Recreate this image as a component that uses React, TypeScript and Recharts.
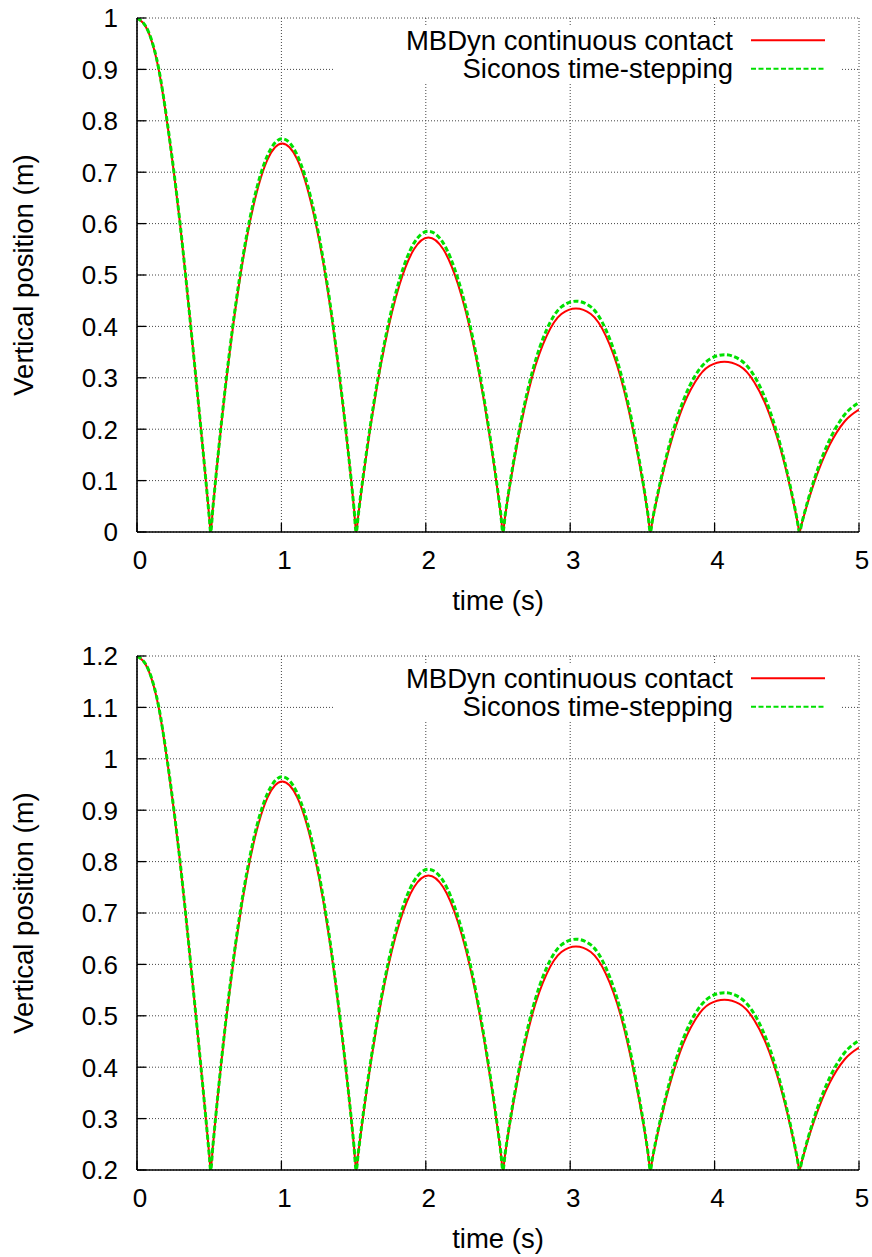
import React from 'react'
import { LineChart, Line, XAxis, YAxis, CartesianGrid, Legend } from 'recharts'

// sample times (s), shared by both panels
const times = [
  0, 0.08, 0.15, 0.207, 0.255, 0.298, 0.336, 0.372, 0.408, 0.443, 0.477, 0.502, 0.51,
  0.525, 0.609, 0.708, 0.807, 0.906, 1.005, 1.108, 1.21, 1.313, 1.415, 1.503, 1.518,
  1.533, 1.618, 1.718, 1.818, 1.918, 2.018, 2.121, 2.224, 2.328, 2.431, 2.519, 2.534,
  2.549, 2.635, 2.736, 2.838, 2.939, 3.04, 3.143, 3.246, 3.349, 3.452, 3.54, 3.555,
  3.57, 3.658, 3.76, 3.863, 3.965, 4.068, 4.172, 4.276, 4.38, 4.484, 4.572, 4.588,
  4.604, 4.692, 4.796, 4.9, 5,
]

const mbdynTop = [
  1, 0.972, 0.9, 0.8, 0.7, 0.6, 0.5, 0.4, 0.3, 0.2, 0.1, 0.024, 0,
  0.045, 0.272, 0.484, 0.635, 0.726, 0.756, 0.726, 0.635, 0.484, 0.272, 0.045, 0,
  0.034, 0.206, 0.367, 0.481, 0.55, 0.573, 0.55, 0.481, 0.367, 0.206, 0.034, 0,
  0.03, 0.174, 0.301, 0.382, 0.424, 0.435, 0.424, 0.382, 0.301, 0.174, 0.03, 0,
  0.0225, 0.133, 0.229, 0.291, 0.323, 0.331, 0.323, 0.291, 0.229, 0.133, 0.0225, 0,
  0.0166, 0.098, 0.169, 0.215, 0.238,
]

const siconosTop = [
  1, 0.973, 0.902, 0.802, 0.702, 0.601, 0.501, 0.401, 0.3, 0.2, 0.1, 0.024, 0,
  0.045, 0.275, 0.49, 0.643, 0.734, 0.765, 0.734, 0.643, 0.49, 0.275, 0.045, 0,
  0.035, 0.211, 0.374, 0.491, 0.562, 0.585, 0.562, 0.491, 0.374, 0.211, 0.035, 0,
  0.031, 0.18, 0.31, 0.394, 0.438, 0.449, 0.438, 0.394, 0.31, 0.18, 0.031, 0,
  0.0235, 0.138, 0.238, 0.303, 0.336, 0.345, 0.336, 0.303, 0.238, 0.138, 0.0235, 0,
  0.0176, 0.104, 0.179, 0.228, 0.252,
]

const mbdynBottom = [
  1.2, 1.172, 1.1, 1.0, 0.9, 0.8, 0.7, 0.6, 0.5, 0.4, 0.3, 0.224, 0.2,
  0.245, 0.472, 0.684, 0.835, 0.926, 0.956, 0.926, 0.835, 0.684, 0.472, 0.245, 0.2,
  0.234, 0.406, 0.567, 0.681, 0.75, 0.773, 0.75, 0.681, 0.567, 0.406, 0.234, 0.2,
  0.23, 0.374, 0.501, 0.582, 0.624, 0.635, 0.624, 0.582, 0.501, 0.374, 0.23, 0.2,
  0.2225, 0.333, 0.429, 0.491, 0.523, 0.531, 0.523, 0.491, 0.429, 0.333, 0.2225, 0.2,
  0.2166, 0.298, 0.369, 0.415, 0.438,
]

const siconosBottom = [
  1.2, 1.173, 1.102, 1.002, 0.902, 0.801, 0.701, 0.601, 0.5, 0.4, 0.3, 0.224, 0.2,
  0.245, 0.475, 0.69, 0.843, 0.934, 0.965, 0.934, 0.843, 0.69, 0.475, 0.245, 0.2,
  0.235, 0.411, 0.574, 0.691, 0.762, 0.785, 0.762, 0.691, 0.574, 0.411, 0.235, 0.2,
  0.231, 0.38, 0.51, 0.594, 0.638, 0.649, 0.638, 0.594, 0.51, 0.38, 0.231, 0.2,
  0.2235, 0.338, 0.438, 0.503, 0.536, 0.545, 0.536, 0.503, 0.438, 0.338, 0.2235, 0.2,
  0.2176, 0.304, 0.379, 0.428, 0.452,
]

const xTicks = [0, 1, 2, 3, 4, 5]
const yTicksTop = [0, 0.1, 0.2, 0.3, 0.4, 0.5, 0.6, 0.7, 0.8, 0.9, 1]
const yTicksBottom = [0.2, 0.3, 0.4, 0.5, 0.6, 0.7, 0.8, 0.9, 1, 1.1, 1.2]

const FONT = '"Liberation Sans", Arial, Helvetica, sans-serif'
const TICK_LEN = 9
const BORDER = { stroke: '#000', strokeWidth: 1.6 }

const LeftTick = (p: any) => (
  <g>
    <line x1={p.x} x2={p.x + TICK_LEN} y1={p.y} y2={p.y} stroke="#000" strokeWidth={1.3} />
    <text x={p.x - 19} y={p.y + 9.3} textAnchor="end" fontSize={26} fontFamily={FONT} fill="#000">
      {String(p.payload.value)}
    </text>
  </g>
)

const RightTick = (p: any) => (
  <line x1={p.x} x2={p.x - TICK_LEN} y1={p.y} y2={p.y} stroke="#000" strokeWidth={1.3} />
)

const BottomTick = (p: any) => (
  <g>
    <line x1={p.x} x2={p.x} y1={p.y} y2={p.y - TICK_LEN} stroke="#000" strokeWidth={1.3} />
    <text x={p.x + 3} y={p.y + 37.3} textAnchor="middle" fontSize={26} fontFamily={FONT} fill="#000">
      {String(p.payload.value)}
    </text>
  </g>
)

const TopTick = (p: any) => (
  <line x1={p.x} x2={p.x} y1={p.y} y2={p.y + TICK_LEN} stroke="#000" strokeWidth={1.3} />
)

const renderLegend = (props: any) => {
  const items = props.payload || []
  return (
    <svg width={506} height={57} style={{ display: 'block', background: '#fff', overflow: 'visible' }}>
      {items.map((it: any, i: number) => {
        const y = 13.3 + i * 28.4
        return (
          <g key={i}>
            <text x={398} y={y + 9.7} textAnchor="end" fontSize={27.5} fontFamily={FONT} fill="#000">
              {it.value}
            </text>
            <line x1={416} x2={490} y1={y} y2={y} stroke={it.color} strokeWidth={2}
              strokeDasharray={it.payload?.strokeDasharray} />
          </g>
        )
      })}
    </svg>
  )
}

type PanelProps = { top: number; mbdyn: number[]; siconos: number[]; yTicks: number[] }

const Panel = ({ top, mbdyn, siconos, yTicks }: PanelProps) => {
  const data = times.map((t, i) => ({ t, mbdyn: mbdyn[i], siconos: siconos[i] }))
  const yDomain = [yTicks[0], yTicks[yTicks.length - 1]]
  return (
    <div style={{ position: 'absolute', left: 0, top, width: 872, height: 628 }}>
      <LineChart width={872} height={628} data={data} margin={{ top: 18, right: 13, bottom: 0, left: 0 }}>
        <CartesianGrid stroke="#444" strokeDasharray="1 2" strokeWidth={1} />
        <XAxis dataKey="t" type="number" domain={[0, 5]} ticks={xTicks} allowDataOverflow interval={0}
          height={96} tickSize={0} tickMargin={0} tickLine={false} axisLine={BORDER} tick={BottomTick}
          label={{ value: 'time (s)', position: 'center', dy: 20, fontSize: 27.5, fill: '#000', fontFamily: FONT }} />
        <XAxis xAxisId="top" orientation="top" dataKey="t" type="number" domain={[0, 5]} ticks={xTicks}
          allowDataOverflow interval={0} height={0} tickSize={0} tickMargin={0} tickLine={false}
          axisLine={BORDER} tick={TopTick} />
        <YAxis type="number" domain={yDomain} ticks={yTicks} allowDataOverflow interval={0} width={137}
          tickSize={0} tickMargin={0} tickLine={false} axisLine={BORDER} tick={LeftTick}
          label={{ value: 'Vertical position (m)', angle: -90, position: 'center', dx: -45, fontSize: 27.5, fill: '#000', fontFamily: FONT }} />
        <YAxis yAxisId="right" orientation="right" type="number" domain={yDomain} ticks={yTicks}
          allowDataOverflow interval={0} width={0} tickSize={0} tickMargin={0} tickLine={false}
          axisLine={BORDER} tick={RightTick} />
        <Legend layout="horizontal" verticalAlign="middle" align="center"
          wrapperStyle={{ left: 335, top: 27, width: 506, height: 57 }} content={renderLegend} />
        <Line type="monotone" dataKey="mbdyn" name="MBDyn continuous contact" stroke="#ff0000"
          strokeWidth={2} dot={false} activeDot={false} isAnimationActive={false} />
        <Line type="monotone" dataKey="siconos" name="Siconos time-stepping" stroke="#00e000"
          strokeWidth={3} strokeDasharray="5 2.5" dot={false} activeDot={false} isAnimationActive={false} />
      </LineChart>
    </div>
  )
}

export default function App() {
  return (
    <div style={{ position: 'absolute', left: 0, top: 0, width: 872, height: 1257, overflow: 'hidden', background: '#fff', fontFamily: FONT }}>
      <Panel top={0} mbdyn={mbdynTop} siconos={siconosTop} yTicks={yTicksTop} />
      <Panel top={638} mbdyn={mbdynBottom} siconos={siconosBottom} yTicks={yTicksBottom} />
    </div>
  )
}
